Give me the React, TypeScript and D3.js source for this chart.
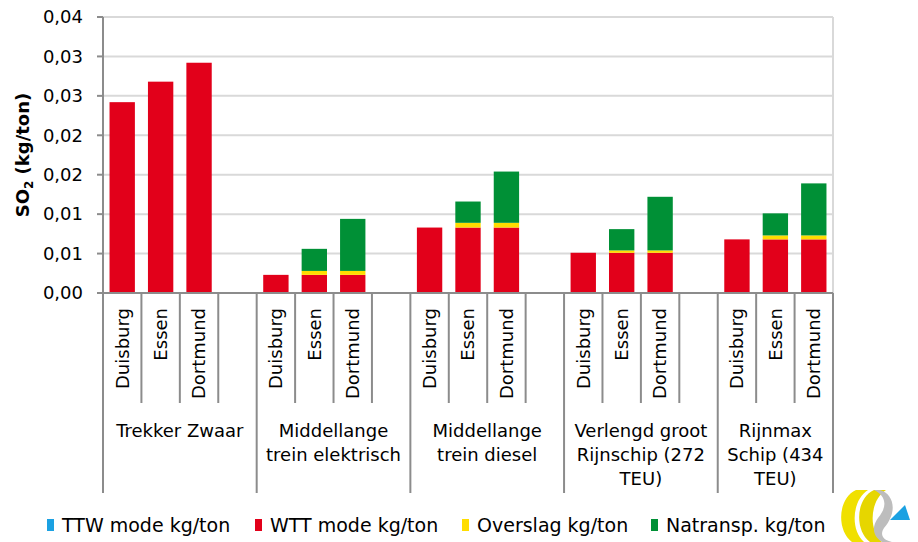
// Stacked SO2 bar chart per transport mode and destination, drawn with d3 scales.

import * as d3 from "d3";

const groups = [
  ["Trekker Zwaar"],
  ["Middellange", "trein elektrisch"],
  ["Middellange", "trein diesel"],
  ["Verlengd groot", "Rijnschip (272", "TEU)"],
  ["Rijnmax", "Schip (434", "TEU)"],
];
const cities = ["Duisburg", "Essen", "Dortmund"];

// one value per bar: 5 groups x 3 cities
const ttw = [0, 0, 0, 0, 0, 0, 0, 0, 0, 0, 0, 0, 0, 0, 0];
const wtt = [
  0.0242, 0.0268, 0.0292, 0.0023, 0.0023, 0.0023, 0.0083, 0.0083, 0.0083,
  0.0051, 0.0051, 0.0051, 0.0068, 0.0068, 0.0068,
];
const overslag = [
  0, 0, 0, 0, 0.0005, 0.0005, 0, 0.0006, 0.0006, 0, 0.0003, 0.0003, 0, 0.0005,
  0.0005,
];
const natransp = [
  0, 0, 0, 0, 0.0028, 0.0066, 0, 0.0027, 0.0065, 0, 0.0027, 0.0068, 0, 0.0028,
  0.0066,
];

const yTicks = [0, 0.005, 0.01, 0.015, 0.02, 0.025, 0.03, 0.035];
const yTickLabels = ["0,00", "0,01", "0,01", "0,02", "0,02", "0,03", "0,03", "0,04"];

const seriesNames = ["TTW mode kg/ton", "WTT mode kg/ton", "Overslag kg/ton", "Natransp. kg/ton"];
const seriesColors = ["#1ba1e2", "#e2001a", "#ffdd00", "#009036"];

const font = "DejaVu Sans, sans-serif";

export default function App() {
  const width = 918;
  const height = 542;
  const [marginTop, marginRight, marginBottom, marginLeft] = [17, 85, 249, 103];

  const slotsPerGroup = 4;
  const nSlots = groups.length * slotsPerGroup - 1;
  const scaleX = d3
    .scaleBand<number>()
    .domain(d3.range(nSlots))
    .range([marginLeft, width - marginRight])
    .padding(0);
  const slotW = scaleX.bandwidth();
  const barW = slotW * 0.66;

  const scaleY = d3.scaleLinear([0, 0.035], [height - marginBottom, marginTop]);
  const y0 = scaleY(0);

  const bars = wtt.map((_, i) => {
    const g = Math.floor(i / 3);
    const slot = g * slotsPerGroup + (i % 3);
    return { i, g, slot, city: cities[i % 3] };
  });

  const rows = bars.map((b) => ({
    ttw: ttw[b.i],
    wtt: wtt[b.i],
    overslag: overslag[b.i],
    natransp: natransp[b.i],
  }));
  const stack = d3.stack<any>().keys(["ttw", "wtt", "overslag", "natransp"])(rows);

  const axisColor = "#8c8c8c";
  const gridColor = "#d9d9d9";
  const xRight = width - marginRight;
  const tickBottom = 403;
  const groupBottom = 493;

  const legendX = [47, 255, 462, 651];

  return (
    <svg width={width} height={height} style={{ display: "block", position: "absolute", left: 0, top: 0 }}>
      <rect width={width} height={height} fill="white" />
      {/* grid */}
      {yTicks.slice(1).map((t) => (
        <line key={t} x1={marginLeft} x2={xRight} y1={scaleY(t)} y2={scaleY(t)} stroke={gridColor} strokeWidth={2} />
      ))}
      <line x1={xRight} x2={xRight} y1={marginTop} y2={y0} stroke={gridColor} strokeWidth={2} />

      {/* bars */}
      {stack.map((s, si) =>
        s.map((d, j) => {
          const h = scaleY(d[0]) - scaleY(d[1]);
          if (h <= 0) return null;
          return (
            <rect
              key={`${si}-${j}`}
              x={scaleX(bars[j].slot)! + (slotW - barW) / 2}
              y={scaleY(d[1])}
              width={barW}
              height={h}
              fill={seriesColors[si]}
            />
          );
        })
      )}

      {/* y axis */}
      <line x1={marginLeft} x2={marginLeft} y1={marginTop} y2={y0} stroke={axisColor} strokeWidth={2} />
      {yTicks.map((t, i) => (
        <g key={t}>
          <line x1={marginLeft - 6} x2={marginLeft} y1={scaleY(t)} y2={scaleY(t)} stroke={axisColor} strokeWidth={2} />
          <text
            x={marginLeft - 20}
            y={scaleY(t)}
            dy="0.35em"
            textAnchor="end"
            fontFamily={font}
            fontSize={18}
            fill="#000"
          >
            {yTickLabels[i]}
          </text>
        </g>
      ))}
      <text
        transform={`translate(29, ${(marginTop + y0) / 2}) rotate(-90)`}
        textAnchor="middle"
        fontFamily={font}
        fontSize={18}
        fontWeight="bold"
      >
        SO<tspan fontSize={12} dy={4}>2</tspan>
        <tspan dy={-4}> (kg/ton)</tspan>
      </text>

      {/* x axis */}
      <line x1={marginLeft} x2={xRight} y1={y0} y2={y0} stroke={axisColor} strokeWidth={2} />
      {d3.range(nSlots + 1).map((k) => {
        const x = marginLeft + k * slotW;
        const isGroup = k % slotsPerGroup === 0 || k === nSlots;
        return (
          <line
            key={k}
            x1={x}
            x2={x}
            y1={y0}
            y2={isGroup ? groupBottom : tickBottom}
            stroke={axisColor}
            strokeWidth={2}
          />
        );
      })}
      {bars.map((b) => (
        <text
          key={b.i}
          transform={`translate(${scaleX(b.slot)! + slotW / 2}, 308) rotate(-90)`}
          textAnchor="end"
          dy="0.35em"
          fontFamily={font}
          fontSize={18}
        >
          {b.city}
        </text>
      ))}
      {groups.map((lines, g) => {
        const start = marginLeft + g * slotsPerGroup * slotW;
        const end = Math.min(start + slotsPerGroup * slotW, xRight);
        return (
          <text key={g} textAnchor="middle" fontFamily={font} fontSize={18}>
            {lines.map((l, li) => (
              <tspan key={li} x={(start + end) / 2} y={437 + li * 24}>
                {l}
              </tspan>
            ))}
          </text>
        );
      })}

      {/* legend */}
      {seriesNames.map((n, i) => (
        <g key={n}>
          <rect x={legendX[i]} y={519} width={7} height={12} fill={seriesColors[i]} />
          <text x={legendX[i] + 15} y={525} dy="0.35em" fontFamily={font} fontSize={19}>
            {n}
          </text>
        </g>
      ))}

      {/* logo */}
      <g>
        <path d="M 856 490 C 838 498 836 530 852 542 L 864 542 C 850 530 852 500 868 490 Z" fill="#f0e000" />
        <path d="M 874 490 C 856 498 854 530 870 542 L 882 542 C 868 530 870 500 886 490 Z" fill="#e6d600" />
        <path d="M 880 490 C 894 494 898 512 884 528 C 880 534 882 540 892 542 L 882 542 C 872 536 872 526 878 518 C 888 506 886 496 874 490 Z" fill="#bdbdbd" />
        <path d="M 890 520 L 910 520 L 905 505 Z" fill="#1ba1e2" />
      </g>
    </svg>
  );
}
